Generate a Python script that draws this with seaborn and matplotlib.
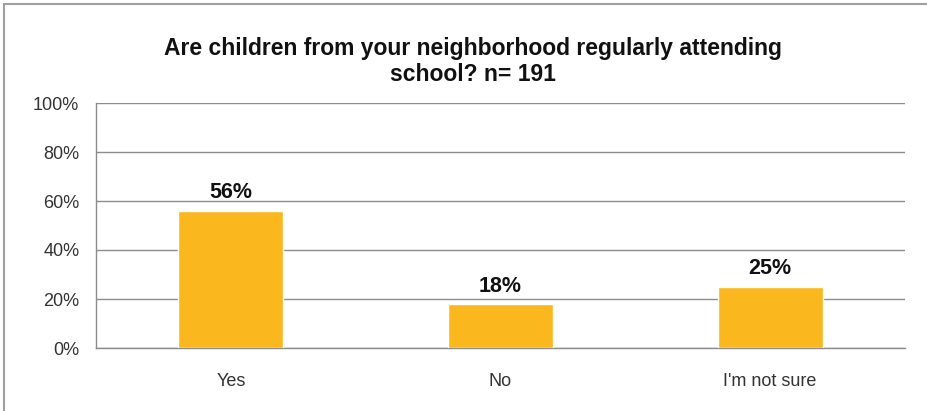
import matplotlib
matplotlib.use("Agg")
import matplotlib.pyplot as plt
import seaborn as sns
import pandas as pd
from matplotlib.lines import Line2D

categories = ["Yes", "No", "I'm not sure"]
values = [56, 18, 25]
value_labels = ["56%", "18%", "25%"]
y_ticks = [0, 20, 40, 60, 80, 100]
y_tick_labels = ["0%", "20%", "40%", "60%", "80%", "100%"]
title = "Are children from your neighborhood regularly attending\nschool? n= 191"

sns.set_style("white")
plt.rcParams['font.family'] = ['Liberation Sans', 'DejaVu Sans']

df = pd.DataFrame({"cat": categories, "val": values})

fig = plt.figure(figsize=(9.27, 4.11), dpi=100)
ax = fig.add_axes([96/927, 1-348/411, (905-96)/927, (348-103)/411])

sns.barplot(data=df, x="cat", y="val", color="#FBB81E", width=0.39,
            saturation=1, ax=ax, zorder=3)

ax.set_ylim(0, 100)
ax.set_xlim(-0.5, 2.5)
ax.set_yticks(y_ticks)
ax.set_yticklabels(y_tick_labels)
ax.yaxis.grid(True, color="#8C8C8C", linewidth=1.0, zorder=0)
ax.set_axisbelow(True)
ax.set_xlabel("")
ax.set_ylabel("")

for s in ["top", "right"]:
    ax.spines[s].set_visible(False)
for s in ["left", "bottom"]:
    ax.spines[s].set_color("#8C8C8C")
    ax.spines[s].set_linewidth(1.0)

ax.tick_params(axis="y", length=4, width=1, color="#8C8C8C", direction="out",
               labelsize=13, labelcolor="#333333", pad=8)
ax.tick_params(axis="x", length=0, labelsize=13, labelcolor="#333333", pad=18)

# minor ticks at category boundaries on x axis
ax.set_xticks([0.5, 1.5, 2.5], minor=True)
ax.tick_params(axis="x", which="minor", length=5, width=1, color="#8C8C8C", direction="out")

for i, (v, lab) in enumerate(zip(values, value_labels)):
    ax.text(i, v + 3, lab, ha="center", va="bottom", fontsize=15.5,
            fontweight="bold", color="#111111")

fig.text(0.5 + 0.01, 0.79, title, ha="center", va="bottom", fontsize=16.5,
         fontweight="bold", color="#111111", linespacing=1.2)

# partial chart frame (left and top borders)
fig.add_artist(Line2D([4/927, 4/927], [0, 1-4/411], transform=fig.transFigure,
                      color="#A0A0A0", linewidth=1.5))
fig.add_artist(Line2D([4/927, 1], [1-4/411, 1-4/411], transform=fig.transFigure,
                      color="#A0A0A0", linewidth=1.5))

fig.savefig("out.png", dpi=100)
